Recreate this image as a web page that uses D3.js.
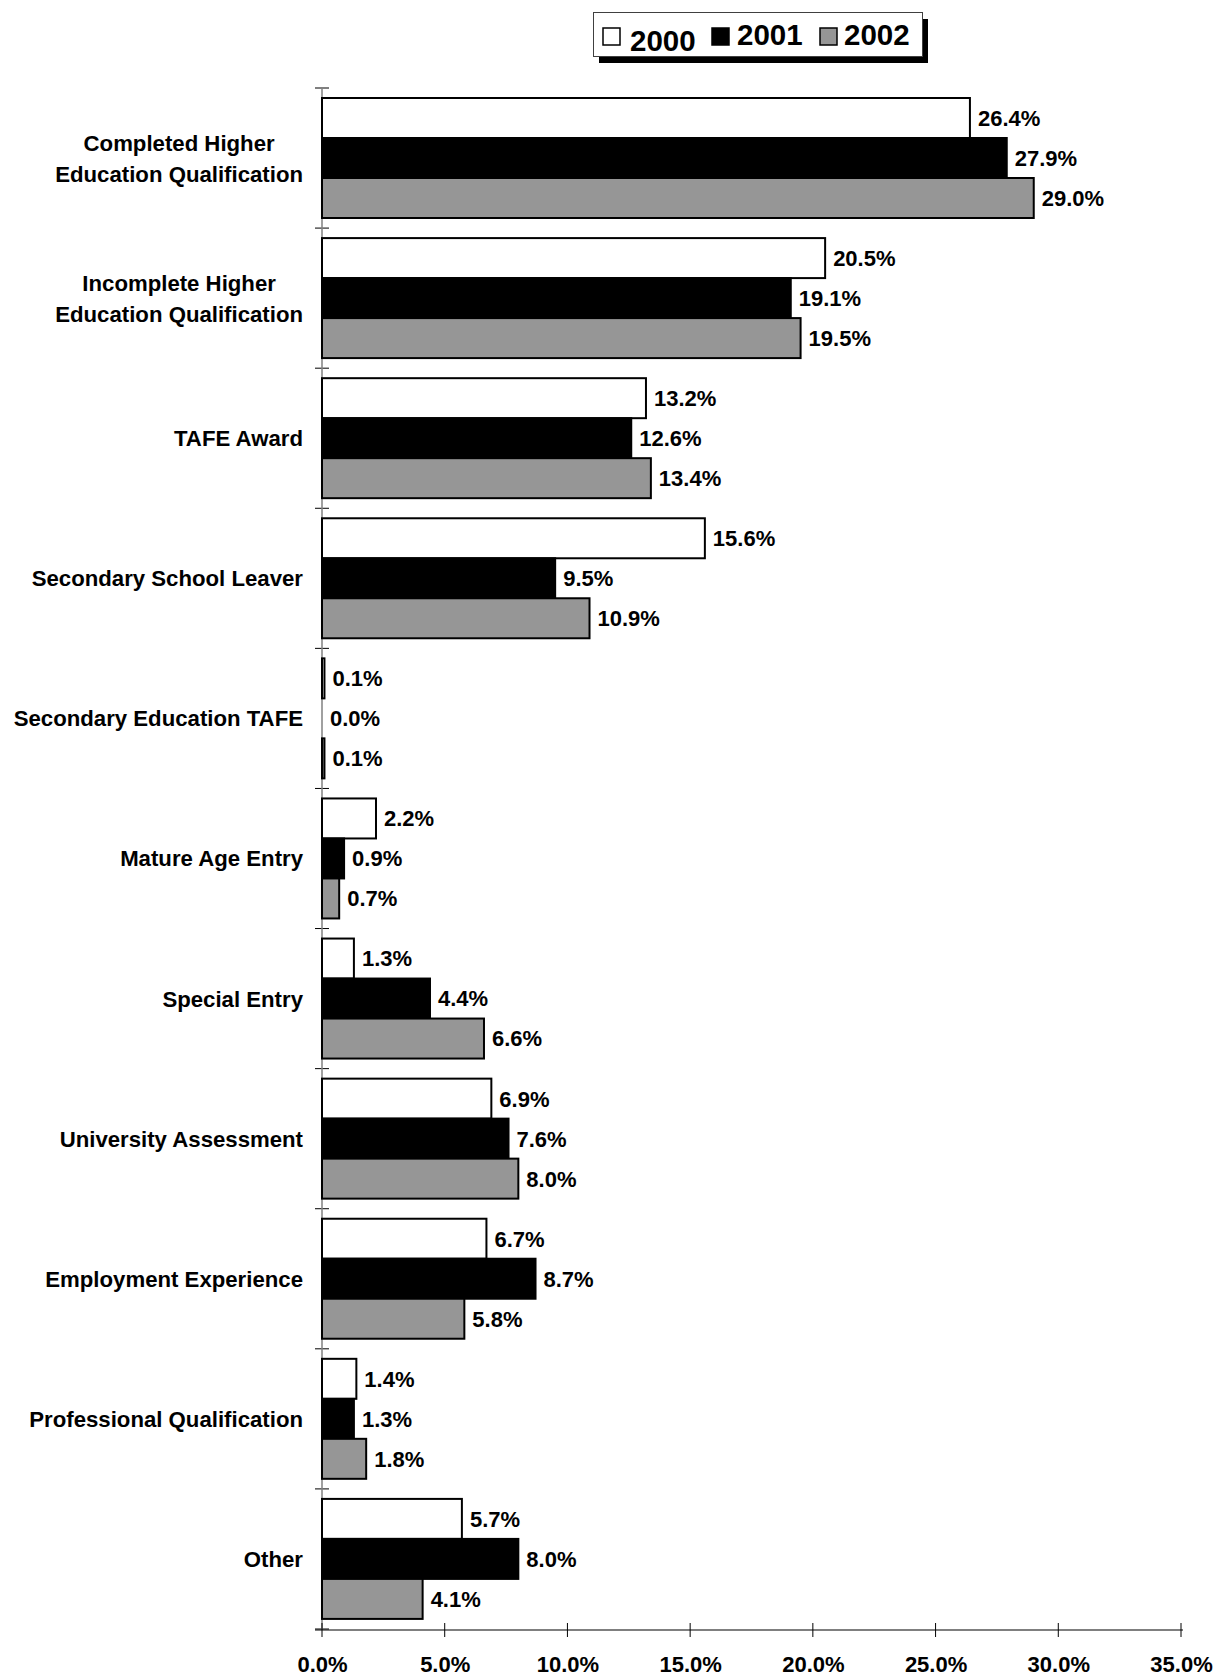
<!DOCTYPE html>
<html>
<head>
<meta charset="utf-8">
<script src="https://cdn.jsdelivr.net/npm/d3@7"></script>
<style>
  html, body { margin: 0; padding: 0; background: #fff; }
  svg { display: block; }
  text { font-family: "Liberation Sans", Arial, sans-serif; font-weight: bold; fill: #000; }
</style>
</head>
<body>
<svg id="chart" width="1217" height="1677"></svg>
<script>
const categories = [
  ["Completed Higher", "Education Qualification"],
  ["Incomplete Higher", "Education Qualification"],
  ["TAFE Award"],
  ["Secondary School Leaver"],
  ["Secondary Education TAFE"],
  ["Mature Age Entry"],
  ["Special Entry"],
  ["University Assessment"],
  ["Employment Experience"],
  ["Professional Qualification"],
  ["Other"]
];
const seriesNames = ["2000", "2001", "2002"];
const values2000 = [26.4, 20.5, 13.2, 15.6, 0.1, 2.2, 1.3, 6.9, 6.7, 1.4, 5.7];
const values2001 = [27.9, 19.1, 12.6, 9.5, 0.0, 0.9, 4.4, 7.6, 8.7, 1.3, 8.0];
const values2002 = [29.0, 19.5, 13.4, 10.9, 0.1, 0.7, 6.6, 8.0, 5.8, 1.8, 4.1];
const xTicks = [0, 5, 10, 15, 20, 25, 30, 35];
const seriesColors = ["#ffffff", "#000000", "#969696"];

const seriesValues = [values2000, values2001, values2002];
const svg = d3.select("#chart");

const catKeys = categories.map(c => c.join(" "));
const x = d3.scaleLinear().domain([0, 35]).range([322, 1181]);
const y = d3.scaleBand().domain(catKeys).range([88, 1629]).padding(0);
const sub = d3.scaleBand().domain(seriesNames).range([10, 130]).padding(0);
const color = d3.scaleOrdinal().domain(seriesNames).range(seriesColors);

const axisY = 1630;

// category boundary ticks on y axis
const bounds = catKeys.map(k => y(k)).concat([y.range()[1]]);
svg.append("g").selectAll("line").data(bounds).join("line")
  .attr("x1", 315).attr("x2", 329)
  .attr("y1", d => d).attr("y2", d => d)
  .attr("stroke", "#000").attr("stroke-width", 1);

// y axis line
svg.append("line")
  .attr("x1", 322).attr("x2", 322).attr("y1", 88).attr("y2", axisY)
  .attr("stroke", "#808080").attr("stroke-width", 1.5);

// bars
const rows = [];
catKeys.forEach((k, i) => {
  seriesNames.forEach((s, j) => rows.push({cat: k, series: s, value: seriesValues[j][i]}));
});

const g = svg.append("g");
g.selectAll("rect").data(rows.filter(d => d.value > 0)).join("rect")
  .attr("x", x(0))
  .attr("y", d => y(d.cat) + sub(d.series))
  .attr("width", d => x(d.value) - x(0))
  .attr("height", sub.bandwidth())
  .attr("fill", d => color(d.series))
  .attr("stroke", "#000").attr("stroke-width", 2);

// value labels
g.selectAll("text.val").data(rows).join("text")
  .attr("class", "val")
  .attr("x", d => x(d.value) + 8)
  .attr("y", d => y(d.cat) + sub(d.series) + sub.bandwidth() / 2)
  .attr("dy", "0.36em")
  .attr("font-size", 22)
  .text(d => d.value.toFixed(1) + "%");

// category labels (block right-aligned, lines centred within block)
const catG = svg.append("g");
const rightEdge = 303;
categories.forEach((lines, i) => {
  const cy = y(catKeys[i]) + y.bandwidth() / 2;
  const lh = 31;
  const t = catG.append("text").attr("font-size", 22.2);
  const spans = lines.map((ln, li) => t.append("tspan")
      .attr("y", cy + (li - (lines.length - 1) / 2) * lh)
      .attr("dy", "0.36em")
      .text(ln));
  const widths = spans.map(s => s.node().getComputedTextLength());
  const maxW = d3.max(widths);
  const cx = rightEdge - maxW / 2;
  t.attr("text-anchor", "middle");
  spans.forEach(s => s.attr("x", cx));
});

// x axis
const xAxis = d3.axisBottom(x).tickValues(xTicks).tickSize(0).tickFormat(d => d.toFixed(1) + "%");
const xg = svg.append("g").attr("transform", `translate(0,${axisY})`).call(xAxis);
xg.select(".domain").remove();
xg.selectAll("text").attr("font-size", 22).attr("font-family", "Liberation Sans, Arial, sans-serif")
  .attr("font-weight", "bold").attr("fill", "#000").attr("y", 42).attr("dy", 0);
svg.append("line").attr("x1", 315).attr("x2", x(35) + 2).attr("y1", axisY).attr("y2", axisY)
  .attr("stroke", "#000").attr("stroke-width", 1.2);
svg.append("g").selectAll("line").data(xTicks).join("line")
  .attr("x1", d => x(d)).attr("x2", d => x(d))
  .attr("y1", axisY - 7).attr("y2", axisY + 7)
  .attr("stroke", "#000").attr("stroke-width", 1);

// legend
const lg = svg.append("g");
lg.append("rect").attr("x", 599).attr("y", 19).attr("width", 329).attr("height", 44).attr("fill", "#000");
lg.append("rect").attr("x", 593.5).attr("y", 12.5).attr("width", 329).attr("height", 44)
  .attr("fill", "#fff").attr("stroke", "#404040").attr("stroke-width", 1);
const legX = [603, 712, 820];
const legTextX = [630, 737, 844];
const legBase = [51, 45, 45];
seriesNames.forEach((s, i) => {
  lg.append("rect").attr("x", legX[i]).attr("y", 28).attr("width", 17).attr("height", 17)
    .attr("fill", color(s)).attr("stroke", "#000").attr("stroke-width", 1.5);
  lg.append("text").attr("x", legTextX[i]).attr("y", legBase[i]).attr("font-size", 29.5).text(s);
});
</script>
</body>
</html>
